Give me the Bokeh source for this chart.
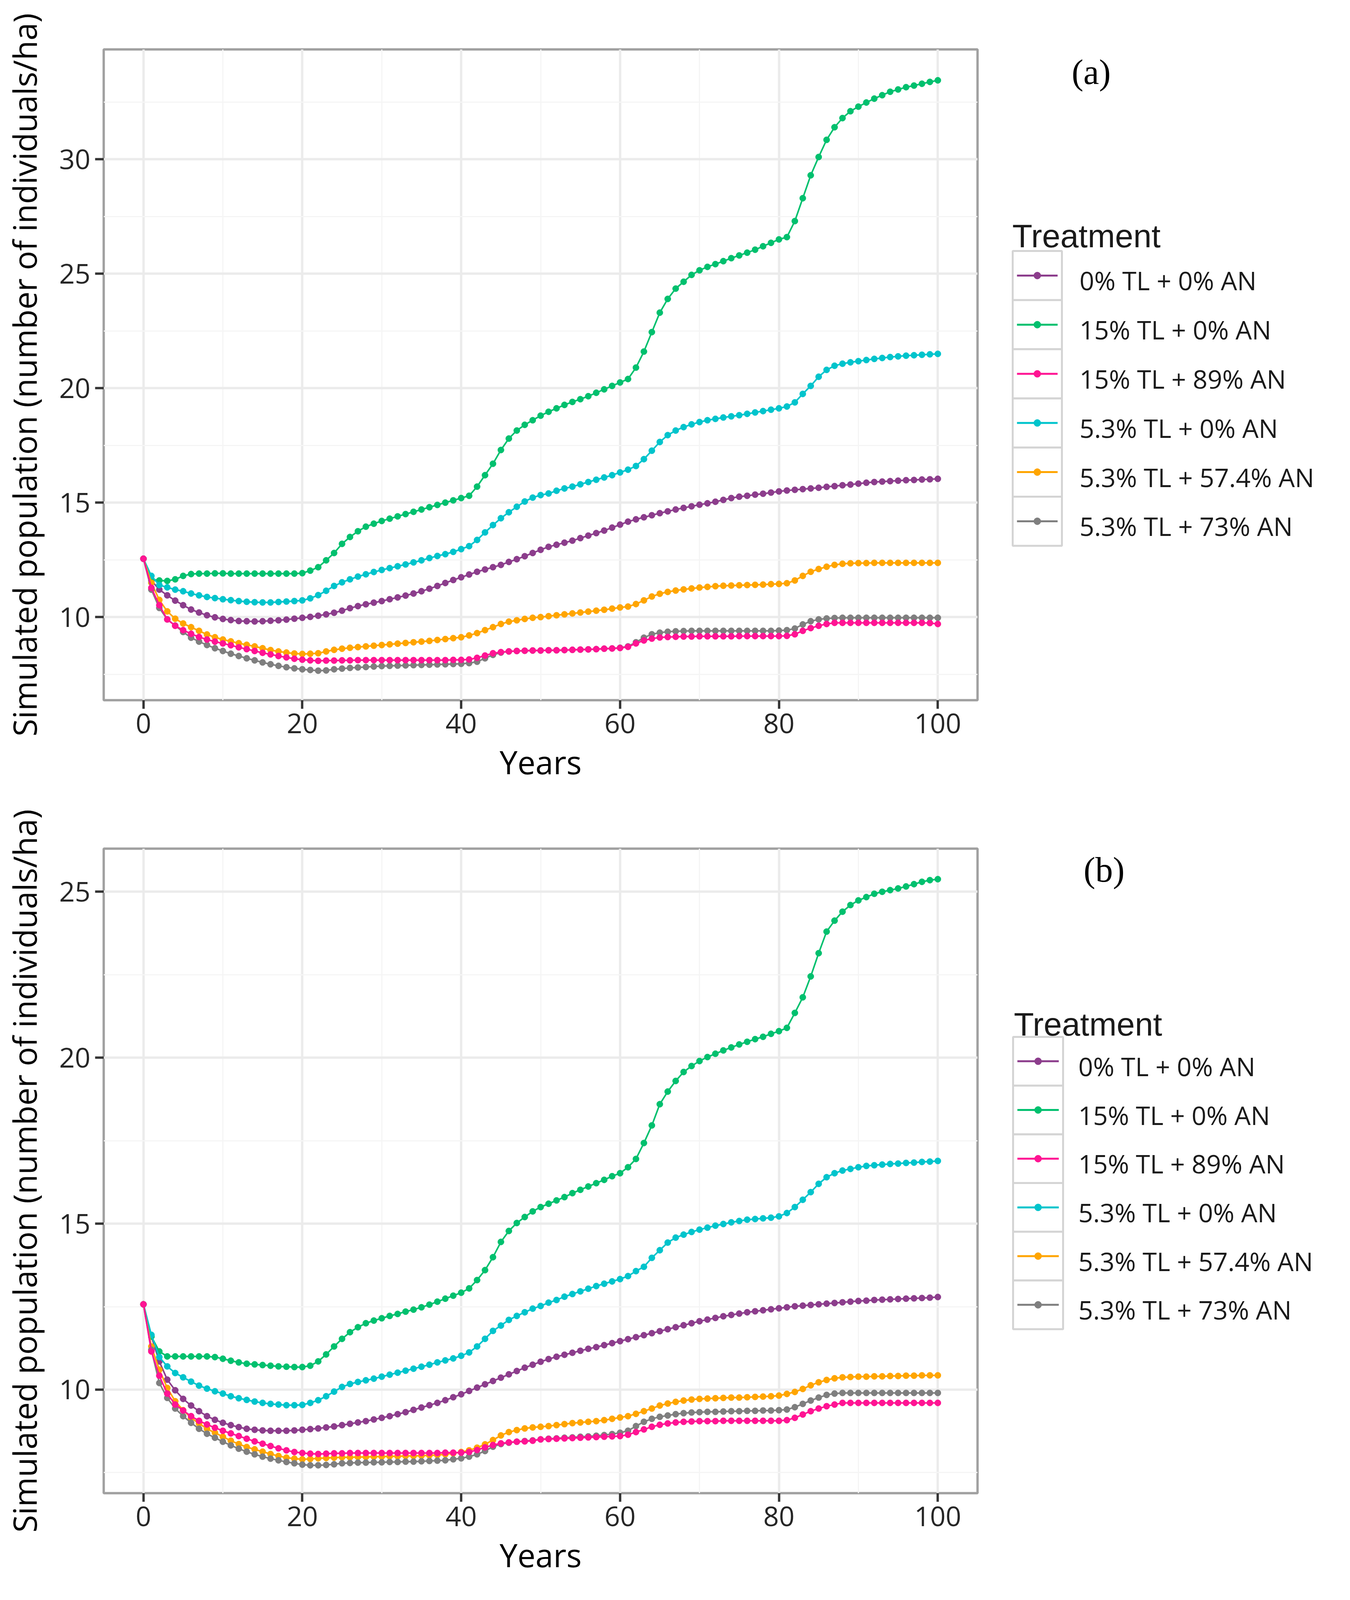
from bokeh.plotting import figure
from bokeh.models import Range1d, FixedTicker
from bokeh.layouts import column, row
from bokeh.core.properties import value
from bokeh.embed import file_html
from bokeh.resources import INLINE

years = list(range(0, 101))

treatments = ["0% TL + 0% AN", "15% TL + 0% AN", "15% TL + 89% AN",
              "5.3% TL + 0% AN", "5.3% TL + 57.4% AN", "5.3% TL + 73% AN"]
colors = ["#8C3D8C", "#00C06E", "#FF1493", "#00C4CC", "#FFA500", "#7F7F7F"]

# ---------------- panel (a) ----------------
purple_a = [12.55, 11.6, 11.2, 10.95, 10.72, 10.52, 10.33, 10.2, 10.08, 9.99,
            9.92, 9.87, 9.83, 9.82, 9.81, 9.82, 9.84, 9.86, 9.89, 9.93,
            9.97, 10.01, 10.06, 10.12, 10.19, 10.28, 10.39, 10.48, 10.56, 10.63,
            10.7, 10.78, 10.86, 10.94, 11.03, 11.13, 11.24, 11.36, 11.49, 11.62,
            11.74, 11.86, 11.98, 12.08, 12.18, 12.28, 12.41, 12.53, 12.66, 12.8,
            12.94, 13.07, 13.16, 13.25, 13.34, 13.45, 13.56, 13.67, 13.78, 13.91,
            14.04, 14.17, 14.27, 14.36, 14.45, 14.54, 14.62, 14.7, 14.77, 14.84,
            14.91, 14.97, 15.04, 15.12, 15.2, 15.26, 15.3, 15.35, 15.39, 15.44,
            15.49, 15.53, 15.56, 15.59, 15.62, 15.65, 15.69, 15.72, 15.76, 15.79,
            15.83, 15.87, 15.9, 15.92, 15.94, 15.96, 15.98, 15.99, 16.01, 16.02,
            16.04]
green_a = [12.55, 11.65, 11.6, 11.58, 11.65, 11.8, 11.88, 11.9, 11.9, 11.91,
           11.91, 11.9, 11.9, 11.9, 11.9, 11.9, 11.9, 11.9, 11.9, 11.9,
           11.92, 12.03, 12.18, 12.48, 12.8, 13.2, 13.5, 13.75, 13.95, 14.08,
           14.2, 14.3, 14.4, 14.5, 14.6, 14.7, 14.8, 14.9, 15.0, 15.1,
           15.2, 15.3, 15.7, 16.2, 16.7, 17.3, 17.8, 18.15, 18.4, 18.6,
           18.8, 18.97, 19.12, 19.27, 19.4, 19.52, 19.65, 19.8, 19.95, 20.1,
           20.25, 20.4, 20.9, 21.6, 22.45, 23.3, 23.9, 24.35, 24.65, 24.95,
           25.15, 25.3, 25.42, 25.55, 25.68, 25.8, 25.92, 26.05, 26.2, 26.35,
           26.5, 26.6, 27.3, 28.3, 29.3, 30.1, 30.85, 31.4, 31.8, 32.1,
           32.3, 32.48, 32.65, 32.8, 32.95, 33.05, 33.15, 33.22, 33.3, 33.38,
           33.45]
pink_a = [12.55, 11.28, 10.52, 9.9, 9.62, 9.43, 9.27, 9.13, 9.02, 8.93,
          8.85, 8.77, 8.68, 8.6, 8.52, 8.44, 8.37, 8.3, 8.24, 8.18,
          8.14, 8.11, 8.09, 8.1, 8.1, 8.11, 8.11, 8.12, 8.12, 8.12,
          8.12, 8.12, 8.12, 8.12, 8.12, 8.12, 8.12, 8.12, 8.12, 8.13,
          8.13, 8.15, 8.22, 8.32, 8.42, 8.47, 8.5, 8.52, 8.53, 8.54,
          8.54, 8.55, 8.55, 8.56, 8.57, 8.58, 8.59, 8.6, 8.62, 8.63,
          8.65, 8.7, 8.85, 8.98, 9.06, 9.11, 9.13, 9.14, 9.15, 9.15,
          9.16, 9.16, 9.16, 9.16, 9.16, 9.17, 9.17, 9.17, 9.17, 9.17,
          9.17, 9.18, 9.25, 9.4, 9.52, 9.62, 9.7, 9.75, 9.75, 9.75,
          9.75, 9.75, 9.75, 9.75, 9.75, 9.75, 9.75, 9.75, 9.75, 9.74,
          9.7]
cyan_a = [12.55, 11.8, 11.4, 11.3, 11.2, 11.13, 11.03, 10.95, 10.88, 10.83,
          10.78, 10.74, 10.7, 10.67, 10.65, 10.64, 10.64, 10.66, 10.68, 10.7,
          10.73, 10.82, 10.96, 11.15, 11.36, 11.52, 11.65, 11.77, 11.87, 11.97,
          12.06, 12.14, 12.22, 12.3, 12.39, 12.48, 12.58, 12.67, 12.75, 12.85,
          12.97, 13.1, 13.37, 13.7, 14.02, 14.32, 14.58, 14.82, 15.05, 15.22,
          15.33, 15.4, 15.52, 15.62, 15.7, 15.8, 15.9, 16.0, 16.1, 16.2,
          16.32, 16.44, 16.6, 16.9, 17.27, 17.65, 17.95, 18.15, 18.3, 18.42,
          18.52, 18.6, 18.66, 18.72, 18.77, 18.82, 18.88, 18.94, 19.0, 19.06,
          19.12, 19.2, 19.38, 19.75, 20.1, 20.5, 20.8, 20.98, 21.07, 21.13,
          21.18, 21.23, 21.28, 21.32, 21.36, 21.39, 21.42, 21.44, 21.46, 21.48,
          21.5]
orange_a = [12.55, 11.5, 10.75, 10.25, 9.93, 9.72, 9.56, 9.4, 9.24, 9.12,
            9.02, 8.94, 8.86, 8.79, 8.72, 8.64, 8.56, 8.5, 8.45, 8.41,
            8.39, 8.4, 8.42, 8.5, 8.57, 8.62, 8.66, 8.69, 8.72, 8.75,
            8.78, 8.81, 8.84, 8.87, 8.9, 8.93, 8.96, 9.0, 9.04, 9.08,
            9.12, 9.2, 9.3, 9.43, 9.56, 9.7, 9.8, 9.86, 9.92, 9.97,
            10.0, 10.04, 10.08, 10.12, 10.16, 10.2, 10.24, 10.28, 10.32, 10.37,
            10.42, 10.46, 10.57, 10.73, 10.9, 11.02, 11.1, 11.16, 11.21, 11.25,
            11.29, 11.32, 11.35, 11.37, 11.38, 11.39, 11.4, 11.41, 11.42, 11.44,
            11.45, 11.48, 11.6, 11.8, 11.98, 12.1, 12.2, 12.28, 12.33, 12.35,
            12.36, 12.36, 12.37, 12.37, 12.37, 12.37, 12.37, 12.37, 12.37, 12.37,
            12.37]
gray_a = [12.55, 11.2, 10.4, 9.9, 9.63, 9.35, 9.1, 8.93, 8.78, 8.64,
          8.52, 8.4, 8.3, 8.2, 8.11, 8.02, 7.94, 7.87, 7.81, 7.76,
          7.72, 7.69, 7.66, 7.67, 7.72, 7.75, 7.78, 7.8, 7.82, 7.84,
          7.86, 7.87, 7.88, 7.89, 7.9, 7.91, 7.92, 7.93, 7.94, 7.95,
          7.96, 7.99, 8.05, 8.2, 8.35, 8.45, 8.5, 8.52, 8.53, 8.54,
          8.54, 8.55, 8.55, 8.56, 8.57, 8.58, 8.59, 8.6, 8.62, 8.63,
          8.66, 8.72, 8.9, 9.1, 9.25, 9.32, 9.36, 9.38, 9.39, 9.4,
          9.4, 9.4, 9.4, 9.4, 9.4, 9.4, 9.4, 9.4, 9.4, 9.4,
          9.41, 9.43, 9.5, 9.68, 9.82, 9.9, 9.94, 9.96, 9.97, 9.97,
          9.97, 9.97, 9.97, 9.97, 9.97, 9.97, 9.97, 9.97, 9.97, 9.97,
          9.97]

# ---------------- panel (b) ----------------
purple_b = [12.57, 11.6, 10.85, 10.3, 9.98, 9.72, 9.52, 9.35, 9.2, 9.09,
            9.0, 8.93, 8.87, 8.82, 8.79, 8.77, 8.76, 8.76, 8.76, 8.77,
            8.79, 8.81, 8.83, 8.86, 8.89, 8.93, 8.97, 9.01, 9.05, 9.1,
            9.15, 9.2, 9.26, 9.32, 9.39, 9.46, 9.53, 9.6, 9.68, 9.77,
            9.86, 9.96, 10.06, 10.16, 10.26, 10.36, 10.46, 10.56, 10.66, 10.75,
            10.84, 10.92, 10.99, 11.05, 11.11, 11.17, 11.23, 11.28, 11.34, 11.4,
            11.46, 11.52, 11.58, 11.64, 11.7, 11.76, 11.82, 11.88, 11.94, 12.0,
            12.06, 12.11, 12.16, 12.21, 12.25, 12.29, 12.33, 12.36, 12.39, 12.42,
            12.45, 12.48, 12.51, 12.53, 12.55, 12.57, 12.59, 12.61, 12.63, 12.65,
            12.67, 12.68, 12.7, 12.71, 12.72, 12.73, 12.74, 12.75, 12.76, 12.77,
            12.79]
green_b = [12.57, 11.6, 11.15, 11.0, 11.0, 11.0, 11.0, 11.0, 11.0, 10.98,
           10.93, 10.87, 10.82, 10.78, 10.76, 10.74, 10.72, 10.7, 10.69, 10.68,
           10.68, 10.72, 10.85, 11.06, 11.3, 11.53, 11.73, 11.88, 12.0, 12.08,
           12.15, 12.22, 12.28, 12.35, 12.41, 12.48, 12.56, 12.65, 12.74, 12.83,
           12.92, 13.05, 13.3, 13.6, 13.99, 14.45, 14.78, 15.02, 15.2, 15.37,
           15.5, 15.6, 15.7, 15.8, 15.92, 16.02, 16.12, 16.22, 16.32, 16.43,
           16.52, 16.7, 16.95, 17.43, 17.96, 18.6, 18.98, 19.3, 19.57, 19.75,
           19.9, 20.02, 20.12, 20.22, 20.31, 20.4, 20.48, 20.56, 20.63, 20.72,
           20.8, 20.9, 21.35, 21.82, 22.45, 23.15, 23.8, 24.13, 24.4, 24.6,
           24.74, 24.84, 24.94, 25.0, 25.05, 25.1, 25.16, 25.23, 25.3, 25.35,
           25.38]
pink_b = [12.57, 11.15, 10.42, 9.88, 9.55, 9.37, 9.2, 9.06, 8.95, 8.85,
          8.76, 8.68, 8.6, 8.52, 8.44, 8.37, 8.3, 8.23, 8.17, 8.12,
          8.09, 8.07, 8.06, 8.07, 8.08, 8.08, 8.09, 8.09, 8.09, 8.09,
          8.09, 8.09, 8.09, 8.09, 8.09, 8.09, 8.09, 8.09, 8.1, 8.1,
          8.1, 8.12, 8.18, 8.26, 8.33, 8.38, 8.41, 8.43, 8.44, 8.46,
          8.5, 8.51, 8.52, 8.53, 8.54, 8.55, 8.56, 8.57, 8.58, 8.59,
          8.6, 8.64, 8.72, 8.8, 8.88, 8.94, 8.98, 9.01, 9.03, 9.04,
          9.05, 9.05, 9.05, 9.06, 9.06, 9.06, 9.06, 9.06, 9.06, 9.06,
          9.06, 9.08, 9.15, 9.25, 9.35, 9.43, 9.5, 9.55, 9.6, 9.6,
          9.6, 9.6, 9.6, 9.6, 9.6, 9.6, 9.6, 9.6, 9.6, 9.6,
          9.6]
cyan_b = [12.57, 11.65, 10.98, 10.7, 10.5, 10.37, 10.24, 10.12, 10.03, 9.95,
          9.88, 9.8, 9.74, 9.69, 9.64, 9.6, 9.57, 9.55, 9.53, 9.53,
          9.54, 9.6, 9.68, 9.8, 9.94, 10.08, 10.17, 10.23, 10.28, 10.33,
          10.39, 10.45, 10.51, 10.57, 10.63, 10.69, 10.75, 10.82, 10.88, 10.94,
          11.02, 11.12, 11.3, 11.53, 11.77, 11.93, 12.1, 12.22, 12.33, 12.44,
          12.52, 12.62, 12.7, 12.8, 12.88, 12.96, 13.04, 13.12, 13.19, 13.26,
          13.33, 13.42, 13.57, 13.7, 13.97, 14.2, 14.43, 14.58, 14.67, 14.75,
          14.82, 14.88, 14.94, 14.99, 15.04, 15.08, 15.12, 15.14, 15.16, 15.18,
          15.22, 15.32, 15.5, 15.72, 15.95, 16.2, 16.4, 16.52, 16.6, 16.65,
          16.7, 16.74, 16.76, 16.78, 16.8, 16.81, 16.83, 16.84, 16.86, 16.87,
          16.89]
orange_b = [12.57, 11.3, 10.6, 10.05, 9.65, 9.38, 9.15, 8.98, 8.82, 8.7,
            8.58, 8.46, 8.36, 8.27, 8.2, 8.13, 8.06, 8.0, 7.95, 7.92,
            7.9, 7.91, 7.93, 7.94, 7.95, 7.96, 7.96, 7.97, 7.97, 7.98,
            7.98, 7.99, 7.99, 8.0, 8.0, 8.01, 8.02, 8.03, 8.05, 8.08,
            8.12, 8.17, 8.25, 8.35, 8.48, 8.62, 8.72, 8.78, 8.83, 8.86,
            8.88, 8.9, 8.93, 8.96, 8.99, 9.01, 9.03, 9.05, 9.08, 9.12,
            9.16, 9.2, 9.27, 9.35, 9.43, 9.52, 9.58, 9.63, 9.67, 9.7,
            9.72, 9.73, 9.74, 9.75, 9.76, 9.76, 9.77, 9.78, 9.79, 9.8,
            9.82, 9.87, 9.93, 10.02, 10.13, 10.22, 10.29, 10.34, 10.37, 10.38,
            10.39, 10.39, 10.4, 10.4, 10.41, 10.41, 10.42, 10.42, 10.43, 10.43,
            10.43]
gray_b = [12.57, 11.2, 10.2, 9.75, 9.43, 9.2, 9.0, 8.82, 8.67, 8.55,
          8.43, 8.32, 8.22, 8.13, 8.05, 7.98, 7.92, 7.87, 7.82, 7.78,
          7.74, 7.72, 7.72, 7.73, 7.75, 7.78, 7.79, 7.8, 7.8, 7.81,
          7.81, 7.82, 7.82, 7.83, 7.83, 7.84, 7.85, 7.86, 7.87, 7.9,
          7.93, 7.98, 8.05, 8.15, 8.28, 8.36, 8.4, 8.43, 8.45, 8.47,
          8.5, 8.52, 8.53, 8.55, 8.56, 8.58, 8.59, 8.61, 8.63, 8.66,
          8.7, 8.76, 8.9, 9.03, 9.12, 9.18, 9.22, 9.26, 9.29, 9.31,
          9.32, 9.33, 9.33, 9.34, 9.35, 9.35, 9.36, 9.36, 9.37, 9.37,
          9.38, 9.4, 9.47, 9.57, 9.67, 9.76, 9.84, 9.88, 9.9, 9.9,
          9.9, 9.9, 9.9, 9.9, 9.9, 9.9, 9.9, 9.9, 9.9, 9.9,
          9.9]

x_ticks = [0, 20, 40, 60, 80, 100]
x_minor = [10, 30, 50, 70, 90]
y_ticks_a = [10, 15, 20, 25, 30]
y_minor_a = [7.5, 12.5, 17.5, 22.5, 27.5, 32.5]
y_ticks_b = [10, 15, 20, 25]
y_minor_b = [7.5, 12.5, 17.5, 22.5]

series_a = [purple_a, green_a, pink_a, cyan_a, orange_a, gray_a]
series_b = [purple_b, green_b, pink_b, cyan_b, orange_b, gray_b]
for s in series_a + series_b:
    assert len(s) == 101

PAGE_W = 3440
MAIN_W = 2506          # both main plots share the same width / borders
SIDE_W = PAGE_W - MAIN_W
LEFT_B, RIGHT_B = 265, 4


def make_main(series, yr, yt, ym, height, top, bottom):
    p = figure(width=MAIN_W, height=height, output_backend="svg",
               toolbar_location=None, x_range=Range1d(-5, 105),
               y_range=Range1d(*yr), min_border_left=LEFT_B,
               min_border_right=RIGHT_B, min_border_top=top,
               min_border_bottom=bottom)
    p.background_fill_color = "white"
    p.border_fill_color = "white"
    p.outline_line_color = "#a0a0a0"
    p.outline_line_width = 6

    p.xaxis.ticker = FixedTicker(ticks=x_ticks, minor_ticks=x_minor)
    p.yaxis.ticker = FixedTicker(ticks=yt, minor_ticks=ym)
    for g in (p.xgrid[0], p.ygrid[0]):
        g.grid_line_color = "#ebebeb"
        g.grid_line_width = 6
        g.minor_grid_line_color = "#f5f5f5"
        g.minor_grid_line_width = 3

    for ax in (p.xaxis[0], p.yaxis[0]):
        ax.axis_line_color = None
        ax.major_tick_line_color = "#333333"
        ax.major_tick_line_width = 6
        ax.major_tick_out = 22
        ax.major_tick_in = 0
        ax.minor_tick_line_color = None
        ax.major_label_text_font = "Open Sans"
        ax.major_label_text_font_size = "70px"
        ax.major_label_text_color = "#262626"
        ax.major_label_standoff = 12
        ax.axis_label_text_font = "Open Sans"
        ax.axis_label_text_font_style = "normal"
        ax.axis_label_text_color = "black"
    p.xaxis.axis_label = "Years"
    p.xaxis.axis_label_text_font_size = "82px"
    p.xaxis.axis_label_standoff = 14
    p.yaxis.axis_label = "Simulated population (number of individuals/ha)"
    p.yaxis.axis_label_text_font_size = "82px"
    p.yaxis.axis_label_standoff = 30
    p.yaxis.major_label_orientation = "horizontal"

    # draw order (pink on top)
    for i in [0, 1, 3, 4, 5, 2]:
        p.line(years, series[i], line_color=colors[i], line_width=4)
        p.scatter(years, series[i], marker="circle", size=16,
                  fill_color=colors[i], line_color=colors[i])
    return p


def make_side(height, page_x0, page_y0, top, bottom, spec):
    """Legend panel + panel tag; coordinates are page pixels (y negated)."""
    s = figure(width=SIDE_W, height=height, output_backend="svg",
               toolbar_location=None,
               x_range=Range1d(page_x0, page_x0 + SIDE_W),
               y_range=Range1d(-(page_y0 + height - bottom), -(page_y0 + top)),
               min_border_left=0, min_border_right=0,
               min_border_top=top, min_border_bottom=bottom,
               x_axis_location=None, y_axis_location=None)
    s.grid.visible = False
    s.outline_line_color = None
    s.background_fill_color = "white"
    s.border_fill_color = "white"

    bl, br, btop, bh = spec["box_left"], spec["box_right"], spec["box_top"], spec["box_h"]
    n = len(treatments)
    tops = [-(btop + k * bh) for k in range(n)]
    bots = [-(btop + (k + 1) * bh) for k in range(n)]
    mids = [(t + b) / 2 for t, b in zip(tops, bots)]
    s.quad(left=[bl] * n, right=[br] * n, top=tops, bottom=bots,
           fill_color="white", line_color="#d4d4d4", line_width=5)
    s.segment(x0=[bl + 11] * n, y0=mids, x1=[br - 11] * n, y1=mids,
              line_color=colors, line_width=5)
    s.scatter(x=[(bl + br) / 2] * n, y=mids, size=18, marker="circle",
              fill_color=colors, line_color=colors)
    s.text(x=[spec["label_x"]] * n, y=[m - 12 for m in mids],
           text=treatments, text_font=value("Open Sans"),
           text_font_size=value("66px"), text_color="#1a1a1a",
           text_baseline="middle", text_align="left")
    s.text(x=[spec["title_x"]], y=[-spec["title_base"]],
           text=["Treatment"], text_font=value("Liberation Sans"),
           text_font_size=value("84px"), text_color="#1a1a1a",
           text_baseline="alphabetic", text_align="left")
    s.text(x=[spec["tag_x"]], y=[-spec["tag_y"]],
           text=[spec["tag"]], text_font=value("Liberation Serif"),
           text_font_size=value("90px"), text_color="black",
           text_baseline="middle", text_align="center")
    return s


# ---- panel (a) ----
H_A, TOP_A, BOT_A = 2060, 126, 268
pa = make_main(series_a, (6.37, 34.8), y_ticks_a, y_minor_a, H_A, TOP_A, BOT_A)
sa = make_side(H_A, 8 + MAIN_W, 8, TOP_A, BOT_A,
               dict(box_left=2600, box_right=2726, box_top=650, box_h=125.8,
                    label_x=2771, title_x=2599, title_base=611,
                    tag="(a)", tag_x=2801, tag_y=192))

# ---- panel (b) ----
H_B, TOP_B, BOT_B = 2040, 112, 278
pb = make_main(series_b, (6.88, 26.3), y_ticks_b, y_minor_b, H_B, TOP_B, BOT_B)
sb = make_side(H_B, 8 + MAIN_W, 8 + H_A, TOP_B, BOT_B,
               dict(box_left=2601, box_right=2729, box_top=2662, box_h=124.7,
                    label_x=2768, title_x=2603, title_base=2629,
                    tag="(b)", tag_x=2834, tag_y=2234))

layout = column(row(pa, sa, spacing=0), row(pb, sb, spacing=0), spacing=0)
open("out.html", "w").write(file_html(layout, INLINE))
